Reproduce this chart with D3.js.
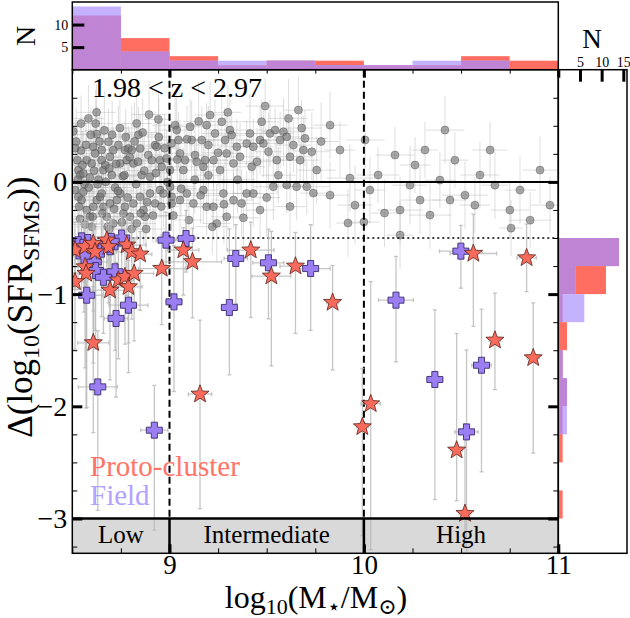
<!DOCTYPE html>
<html>
<head>
<meta charset="utf-8">
<script src="https://cdn.jsdelivr.net/npm/d3@7"></script>
<style>
  body { margin: 0; background: #fff; }
  svg { display: block; }
  text { font-family: "Liberation Serif", "DejaVu Serif", serif; fill: #000; }
</style>
</head>
<body>
<div id="chart"></div>
<script>
// Delta SFR vs stellar mass, proto-cluster vs field, with marginal histograms

// background sample: [logM, dSFR, xerr, yerr]
const graySample = [
  [8.583,0.566,0.08,0.3],[8.626,0.426,0.1,0.25],[8.526,0.194,0.06,0.35],[8.531,0.105,0.05,0.2],
  [8.540,0.061,0.07,0.3],[8.557,0.076,0.1,0.4],[8.574,0.194,0.08,0.25],[8.600,0.165,0.12,0.3],
  [8.608,0.313,0.06,0.2],[8.617,0.254,0.09,0.35],[8.651,0.284,0.1,0.3],[8.651,0.194,0.07,0.2],
  [8.660,0.105,0.08,0.4],[8.686,0.358,0.12,0.3],[8.694,0.224,0.06,0.25],[8.703,0.061,0.09,0.3],
  [8.711,0.284,0.1,0.2],[8.737,0.328,0.07,0.35],[8.746,0.165,0.11,0.3],[8.771,0.284,0.08,0.25],
  [8.780,0.194,0.1,0.3],[8.789,0.298,0.06,0.2],[8.806,0.284,0.09,0.4],[8.831,0.521,0.08,0.3],
  [8.814,0.165,0.12,0.25],[8.849,0.298,0.07,0.3],[8.857,0.061,0.1,0.2],[8.891,0.239,0.09,0.35],
  [8.900,0.046,0.06,0.3],[8.909,0.194,0.11,0.25],[8.926,0.328,0.08,0.3],[8.934,0.313,0.1,0.2],
  [8.943,0.557,0.07,0.25],[8.951,0.194,0.12,0.4],[8.960,0.135,0.09,0.3],[8.986,0.209,0.08,0.25],
  [9.003,0.105,0.1,0.3],[9.011,0.343,0.07,0.2],[9.029,0.506,0.12,0.3],[9.037,0.462,0.09,0.35],
  [9.046,0.373,0.1,0.25],[9.054,0.254,0.08,0.3],[9.071,0.105,0.11,0.2],[9.080,0.194,0.07,0.3],
  [9.106,0.492,0.1,0.25],[9.114,0.373,0.12,0.35],[9.131,0.239,0.09,0.3],[9.140,0.179,0.08,0.2],
  [9.166,0.373,0.1,0.3],[9.174,0.135,0.07,0.25],[9.183,0.194,0.12,0.3],[9.191,0.506,0.09,0.2],
  [9.200,0.328,0.1,0.35],[9.209,0.596,0.08,0.3],[9.226,0.194,0.11,0.25],[9.234,0.432,0.07,0.3],
  [9.260,0.105,0.1,0.2],[9.269,0.536,0.12,0.3],[9.286,0.373,0.09,0.25],[9.294,0.254,0.08,0.35],
  [9.311,0.462,0.1,0.3],[9.320,0.417,0.07,0.2],[9.329,0.165,0.12,0.3],[9.346,0.313,0.09,0.25],
  [9.363,0.224,0.1,0.3],[9.397,0.343,0.08,0.2],[9.414,0.432,0.11,0.35],[9.423,0.135,0.07,0.3],
  [9.431,0.313,0.1,0.25],[9.466,0.373,0.12,0.3],[9.474,0.536,0.09,0.2],[9.483,0.343,0.08,0.3],
  [9.492,0.676,0.1,0.25],[9.509,0.269,0.07,0.35],[9.517,0.432,0.12,0.3],[9.543,0.462,0.09,0.2],
  [9.552,0.194,0.1,0.3],[9.569,0.373,0.08,0.25],[9.586,0.447,0.11,0.3],[9.603,0.402,0.07,0.2],
  [9.612,0.566,0.1,0.35],[9.620,0.224,0.12,0.3],[9.637,0.328,0.09,0.25],[9.663,0.640,0.08,0.3],
  [9.672,0.194,0.1,0.2],[9.689,0.284,0.07,0.3],[9.697,0.388,0.12,0.25],[9.732,0.269,0.09,0.35],
  [9.757,0.105,0.1,0.3],
  [8.514,-0.073,0.06,0.3],[8.531,-0.133,0.08,0.25],[8.548,-0.162,0.1,0.35],[8.557,-0.088,0.07,0.3],
  [8.574,-0.251,0.09,0.25],[8.591,-0.311,0.08,0.3],[8.608,-0.222,0.1,0.2],[8.626,-0.162,0.07,0.3],
  [8.643,-0.133,0.12,0.25],[8.651,-0.103,0.09,0.35],[8.660,-0.222,0.08,0.3],[8.677,-0.311,0.1,0.25],
  [8.694,-0.192,0.07,0.3],[8.711,-0.370,0.11,0.35],[8.729,-0.162,0.08,0.2],[8.746,-0.103,0.1,0.3],
  [8.763,-0.281,0.09,0.25],[8.771,-0.222,0.07,0.3],[8.797,-0.311,0.12,0.35],[8.814,-0.192,0.08,0.25],
  [8.831,-0.370,0.1,0.3],[8.849,-0.133,0.09,0.2],[8.866,-0.251,0.07,0.3],[8.874,-0.311,0.11,0.25],
  [8.900,-0.103,0.08,0.3],[8.926,-0.192,0.1,0.35],[8.951,-0.073,0.09,0.25],[8.969,-0.103,0.07,0.3],
  [9.003,-0.043,0.12,0.2],[9.011,-0.133,0.08,0.3],[9.011,-0.192,0.1,0.25],[9.054,-0.162,0.09,0.3],
  [9.089,-0.103,0.07,0.35],[9.123,-0.192,0.11,0.25],[9.174,-0.073,0.08,0.3],[9.191,-0.222,0.1,0.25],
  [9.226,-0.222,0.09,0.3],[9.243,-0.370,0.07,0.35],[9.277,-0.103,0.12,0.25],[9.294,-0.311,0.08,0.3],
  [9.329,-0.162,0.1,0.25],[9.371,-0.192,0.09,0.3],[9.397,-0.103,0.07,0.2],[9.431,-0.103,0.11,0.3],
  [9.466,-0.251,0.08,0.25],[9.534,-0.043,0.1,0.3],[9.603,-0.028,0.09,0.25],[9.654,-0.043,0.07,0.3],
  [9.706,-0.043,0.12,0.25],
  [8.520,0.360,0.06,0.3],[8.545,0.280,0.08,0.25],[8.562,-0.020,0.07,0.3],[8.590,0.040,0.09,0.35],
  [8.635,0.020,0.07,0.3],[8.670,0.150,0.1,0.25],[8.720,-0.050,0.08,0.3],[8.760,0.050,0.07,0.25],
  [8.690,-0.420,0.09,0.3],[8.600,-0.400,0.08,0.25],[8.540,-0.330,0.07,0.3],[8.880,-0.420,0.1,0.25],
  [8.620,0.520,0.09,0.3],[8.840,0.420,0.08,0.25],
  [8.505,0.450,0.07,0.3],[8.515,0.300,0.09,0.25],[8.528,0.020,0.06,0.35],[8.535,-0.220,0.08,0.3],
  [8.545,0.520,0.1,0.25],[8.552,0.150,0.07,0.3],[8.565,-0.380,0.09,0.35],[8.570,0.330,0.08,0.25],
  [8.585,-0.050,0.1,0.3],[8.595,0.420,0.07,0.25],[8.605,-0.310,0.09,0.3],[8.612,0.100,0.08,0.35],
  [8.625,0.620,0.1,0.25],[8.630,-0.020,0.07,0.3],[8.640,0.360,0.09,0.25],[8.655,-0.280,0.08,0.3],
  [8.665,0.460,0.1,0.35],[8.672,0.000,0.07,0.25],[8.682,-0.400,0.09,0.3],[8.690,0.120,0.08,0.25],
  [8.705,0.420,0.1,0.3],[8.715,-0.240,0.07,0.35],[8.725,0.160,0.09,0.25],[8.735,-0.080,0.08,0.3],
  [8.745,0.480,0.1,0.25],[8.755,-0.360,0.07,0.3],[8.768,0.060,0.09,0.35],[8.775,0.400,0.08,0.25],
  [8.785,-0.140,0.1,0.3],[8.795,0.220,0.07,0.25],[8.805,-0.420,0.09,0.3],[8.820,0.360,0.08,0.35],
  [8.828,-0.020,0.1,0.25],[8.838,0.180,0.07,0.3],[8.852,-0.280,0.09,0.25],[8.862,0.440,0.08,0.3],
  [8.870,0.100,0.1,0.35],[8.885,-0.180,0.07,0.25],[8.895,0.600,0.09,0.3],[8.915,-0.300,0.08,0.25],
  [8.930,0.080,0.1,0.3],[8.945,0.400,0.07,0.35],[8.958,-0.220,0.09,0.25],[8.975,0.300,0.08,0.3],
  [8.990,0.000,0.1,0.25],[9.020,-0.300,0.07,0.3],[9.040,0.200,0.09,0.35],[9.060,-0.060,0.08,0.25],
  [9.090,0.380,0.1,0.3],[9.100,-0.340,0.07,0.25],[9.130,0.020,0.09,0.3],[9.150,0.540,0.08,0.35],
  [9.160,-0.120,0.1,0.25],[9.200,0.060,0.07,0.3],[9.220,-0.400,0.09,0.25],[9.250,0.260,0.08,0.3],
  [9.280,-0.200,0.1,0.35],[9.300,0.620,0.07,0.25],[9.350,0.020,0.09,0.3],[9.380,-0.320,0.08,0.25],
  [9.450,0.180,0.1,0.3],[9.500,-0.140,0.07,0.35],[9.560,0.060,0.09,0.25],[9.620,-0.220,0.08,0.3],
  [9.680,0.480,0.1,0.25],[9.740,-0.100,0.07,0.3],[9.780,0.360,0.09,0.35],
  [9.826,-0.118,0.1,0.3],[9.877,0.284,0.08,0.25],[9.928,0.034,0.12,0.3],[9.954,-0.207,0.09,0.35],
  [10.006,0.373,0.1,0.25],[10.031,-0.073,0.08,0.3],[10.073,0.061,0.11,0.25],[10.106,-0.278,0.07,0.3],
  [10.160,0.239,0.1,0.25],[10.186,-0.251,0.12,0.3],[10.237,-0.029,0.09,0.35],[10.263,0.150,0.08,0.25],
  [10.289,-0.162,0.1,0.3],[10.314,0.284,0.07,0.25],[10.340,-0.296,0.11,0.3],[10.391,0.016,0.08,0.25],
  [10.417,0.462,0.1,0.3],[10.443,-0.162,0.09,0.35],[10.468,0.194,0.07,0.25],[10.520,-0.118,0.12,0.3],
  [10.571,-0.207,0.08,0.25],[10.597,0.061,0.1,0.3],[10.649,0.284,0.09,0.25],[10.674,-0.029,0.07,0.3],
  [10.751,-0.251,0.1,0.25],[10.803,-0.073,0.08,0.3],[10.855,-0.341,0.11,0.25],[10.906,0.105,0.09,0.3],
  [10.957,-0.207,0.1,0.25],[9.918,-0.367,0.06,0.3],[10.000,-0.358,0.08,0.25],[10.186,-0.474,0.07,0.3],
  [10.757,-0.412,0.06,0.25],[9.826,0.506,0.09,0.3]
];

// proto-cluster members: [logM, dSFR, xerr, yerrLow, yerrHigh]
const protoCluster = [
  [8.514,-0.608,0.05,0.35,0.25],[8.566,-0.578,0.06,0.45,0.3],[8.608,-0.549,0.08,0.6,0.2],
  [8.677,-0.519,0.07,0.4,0.3],[8.686,-0.578,0.05,0.5,0.2],[8.617,-0.623,0.06,0.7,0.25],
  [8.780,-0.563,0.1,0.45,0.25],[8.806,-0.623,0.08,0.6,0.3],[8.849,-0.644,0.06,0.5,0.2],
  [8.566,-0.757,0.08,0.9,0.25],[8.571,-0.816,0.07,1.2,0.3],[8.514,-0.890,0.05,0.6,0.3],
  [8.694,-0.965,0.1,0.8,0.35],[8.737,-0.876,0.08,0.7,0.3],[8.771,-0.846,0.06,0.6,0.3],
  [8.789,-0.935,0.07,0.5,0.35],[8.818,-0.816,0.1,0.6,0.3],[8.960,-0.772,0.12,0.5,0.3],
  [9.071,-0.608,0.08,0.4,0.2],[9.118,-0.712,0.15,0.5,0.3],[9.418,-0.608,0.12,0.6,0.25],
  [9.524,-0.840,0.1,0.8,0.4],[9.648,-0.751,0.08,0.6,0.3],[8.608,-1.434,0.08,0.8,0.5],
  [9.157,-1.892,0.06,1.02,0.66],[9.839,-1.075,0.03,0.6,0.33],[10.563,-0.638,0.12,0.65,0.35],
  [10.837,-0.677,0.05,0.3,0.3],[10.674,-1.411,0.03,0.44,0.42],[10.871,-1.568,0.03,0.85,0.49],
  [10.035,-1.978,0.05,1.3,1.09],[9.992,-2.183,0.03,0.97,0.52],[10.477,-2.391,0.03,0.45,1.04],
  [10.520,-2.956,0.03,0.3,0.8]
];

// field galaxies: [logM, dSFR, xerr, yerrLow, yerrHigh]
const fieldSample = [
  [8.548,-0.525,0.06,0.5,0.2],[8.608,-0.712,0.07,0.9,0.3],[8.694,-0.578,0.06,0.6,0.25],
  [8.754,-0.500,0.08,0.4,0.2],[8.720,-0.801,0.1,0.7,0.3],[8.574,-1.010,0.08,1.0,0.4],
  [8.789,-1.099,0.1,0.6,0.4],[8.725,-1.217,0.06,0.7,0.5],[8.631,-1.827,0.1,1.1,0.5],
  [8.982,-0.519,0.05,0.3,0.25],[9.085,-0.504,0.05,0.3,0.25],[9.023,-1.069,0.04,0.8,0.5],
  [9.341,-0.682,0.06,0.4,0.3],[9.308,-1.119,0.04,0.6,0.7],[9.509,-0.721,0.08,0.5,0.3],
  [9.726,-0.772,0.1,0.55,0.39],[10.165,-1.054,0.09,0.55,0.39],[10.499,-0.617,0.11,0.33,0.23],
  [10.365,-1.761,0.04,1.07,0.62],[10.605,-1.634,0.05,0.95,0.5],[10.528,-2.228,0.06,1.1,0.73],
  [8.922,-2.213,0.07,0.89,0.4],
  [8.530,-0.560,0.05,0.4,0.2],[8.580,-0.540,0.06,0.5,0.2],[8.650,-0.600,0.05,0.6,0.3],
  [8.700,-0.530,0.05,0.4,0.2],[8.560,-0.660,0.06,0.5,0.3],[8.620,-0.790,0.05,0.7,0.3],
  [8.660,-0.850,0.06,0.5,0.3]
];

// marginal histograms (counts)
const massEdges = [8.5, 8.75, 9.0, 9.25, 9.5, 9.75, 10.0, 10.25, 10.5, 10.75, 11.0];
const massProto = [12, 7, 3, 1, 2, 2, 1, 1, 3, 2];
const massField = [14, 4, 2, 2, 2, 1, 1, 2, 2, 0];
const sfrEdges = [-0.5, -0.75, -1.0, -1.25, -1.5, -1.75, -2.0, -2.25, -2.5, -2.75, -3.0];
const sfrProto = [14, 11, 1, 2, 1, 2, 1, 1, 0, 1];
const sfrField = [14, 4, 6, 0, 1, 2, 2, 0, 0, 0];

const massTicks = [9, 10, 11];
const sfrTicks = [0, -1, -2, -3];
const countTicks = [5, 10];
const countTicksRight = [5, 10, 15];
const massBins = [
  { name: 'Low', lo: 8.5, hi: 9 },
  { name: 'Intermediate', lo: 9, hi: 10 },
  { name: 'High', lo: 10, hi: 11 }
];

const width = 630, height = 618;
const L = 72.3, R = 558.3, T = 69.7, B = 553.3;
const TOPY = 2, RIGHTX = 627;

const RED = '#ff6e60', LAV = '#c4b2ff', MIX = '#c084d4';

const svg = d3.select('#chart').append('svg')
  .attr('width', width).attr('height', height);

const x = d3.scaleLinear().domain([8.5, 11]).range([L, R]);
const y = d3.scaleLinear().domain([-3.31, 1.0]).range([B, T]);
const yTop = d3.scaleLinear().domain([0, 15]).range([T, TOPY]);
const xRight = d3.scaleLinear().domain([0, 15.85]).range([R, RIGHTX]);

svg.append('clipPath').attr('id', 'main-clip')
  .append('rect').attr('x', L).attr('y', T).attr('width', R - L).attr('height', B - T);

// ---- mass bins band ----
svg.append('rect')
  .attr('x', L).attr('y', y(-3)).attr('width', R - L).attr('height', B - y(-3))
  .attr('fill', '#d9d9d9');

const plot = svg.append('g').attr('clip-path', 'url(#main-clip)');

// ---- background sample ----
const gErr = plot.append('g').attr('stroke', '#b5b5b5').attr('stroke-opacity', 0.45).attr('stroke-width', 1);
graySample.forEach(d => {
  gErr.append('line').attr('x1', x(d[0] - d[2])).attr('x2', x(d[0] + d[2])).attr('y1', y(d[1])).attr('y2', y(d[1]));
  gErr.append('line').attr('x1', x(d[0])).attr('x2', x(d[0])).attr('y1', y(d[1] - d[3])).attr('y2', y(d[1] + d[3]));
});
plot.append('g').selectAll('circle').data(graySample).join('circle')
  .attr('cx', d => x(d[0])).attr('cy', d => y(d[1])).attr('r', 4)
  .attr('fill', '#737373').attr('fill-opacity', 0.62)
  .attr('stroke', '#3a3a3a').attr('stroke-opacity', 0.6).attr('stroke-width', 0.6);

// ---- reference lines ----
plot.append('line').attr('x1', L).attr('x2', R).attr('y1', y(0)).attr('y2', y(0))
  .attr('stroke', '#000').attr('stroke-width', 2);
plot.append('line').attr('x1', L).attr('x2', R).attr('y1', y(-0.5)).attr('y2', y(-0.5))
  .attr('stroke', '#000').attr('stroke-width', 1.6).attr('stroke-dasharray', '2,3');
massTicks.slice(0, 2).forEach(m => {
  plot.append('line').attr('x1', x(m)).attr('x2', x(m)).attr('y1', T).attr('y2', y(-3))
    .attr('stroke', '#000').attr('stroke-width', 2).attr('stroke-dasharray', '7,4');
});

// ---- error bars for the two samples ----
const cErr = plot.append('g').attr('stroke', '#b8b8b8').attr('stroke-opacity', 0.8).attr('stroke-width', 1.3);
function drawErr(d) {
  const cx = x(d[0]), cy = y(d[1]);
  const x0 = x(d[0] - d[2]), x1 = x(d[0] + d[2]);
  const y0 = y(d[1] - d[3]), y1 = y(d[1] + d[4]);
  cErr.append('line').attr('x1', x0).attr('x2', x1).attr('y1', cy).attr('y2', cy);
  cErr.append('line').attr('x1', cx).attr('x2', cx).attr('y1', y0).attr('y2', y1);
  [x0, x1].forEach(v => cErr.append('line').attr('x1', v).attr('x2', v).attr('y1', cy - 2).attr('y2', cy + 2));
  [y0, y1].forEach(v => cErr.append('line').attr('x1', cx - 2).attr('x2', cx + 2).attr('y1', v).attr('y2', v));
}
fieldSample.forEach(drawErr);
protoCluster.forEach(drawErr);

// marker shapes
function plusPath(s) {
  const a = s * 0.19, b = s / 2;
  return `M${-a},${-b}H${a}V${-a}H${b}V${a}H${a}V${b}H${-a}V${a}H${-b}V${-a}H${-a}Z`;
}
function starPath(ro, ri) {
  const pts = [];
  for (let i = 0; i < 10; i++) {
    const r = i % 2 === 0 ? ro : ri;
    const a = -Math.PI / 2 + i * Math.PI / 5;
    pts.push([r * Math.cos(a), r * Math.sin(a)]);
  }
  return 'M' + pts.map(p => p[0].toFixed(2) + ',' + p[1].toFixed(2)).join('L') + 'Z';
}

plot.append('g').selectAll('path').data(fieldSample).join('path')
  .attr('d', plusPath(16))
  .attr('transform', d => `translate(${x(d[0])},${y(d[1])})`)
  .attr('fill', '#9b7ff2').attr('stroke', '#3b2d6e').attr('stroke-width', 0.9);

plot.append('g').selectAll('path').data(protoCluster).join('path')
  .attr('d', starPath(9.5, 4))
  .attr('transform', d => `translate(${x(d[0])},${y(d[1])})`)
  .attr('fill', '#f86b5c').attr('stroke', '#5a241c').attr('stroke-width', 0.8);

// ---- band outline + labels ----
svg.append('line').attr('x1', L).attr('x2', R).attr('y1', y(-3)).attr('y2', y(-3))
  .attr('stroke', '#000').attr('stroke-width', 2.5);
massBins.forEach(b => {
  svg.append('text')
    .attr('x', (x(b.lo) + x(b.hi)) / 2).attr('y', y(-3) + 24)
    .attr('text-anchor', 'middle').attr('font-size', 25)
    .text(b.name);
});
massTicks.slice(0, 2).forEach(m => {
  svg.append('line').attr('x1', x(m)).attr('x2', x(m)).attr('y1', y(-3)).attr('y2', B)
    .attr('stroke', '#000').attr('stroke-width', 2.5);
});

// ---- main axes ----
const minorX = d3.range(8.5, 11.001, 0.25).filter(v => Math.abs(v - Math.round(v)) > 1e-6);
const minorY = d3.range(-3.25, 1.001, 0.25).filter(v => Math.abs(v - Math.round(v)) > 1e-6);

function styleAxis(g, major, fs) {
  g.select('.domain').remove();
  g.selectAll('.tick line').attr('stroke', '#000').attr('stroke-width', major ? 3 : 1);
  g.selectAll('.tick text').attr('font-size', fs || 28)
    .attr('font-family', '"Liberation Serif", serif');
}

svg.append('g').attr('transform', `translate(0,${B})`)
  .call(d3.axisBottom(x).tickValues(massTicks).tickSize(-9).tickPadding(2).tickFormat(d3.format('d')))
  .call(g => styleAxis(g, true, 27));
svg.append('g').attr('transform', `translate(0,${B})`)
  .call(d3.axisBottom(x).tickValues(minorX).tickSize(-5).tickFormat(''))
  .call(g => styleAxis(g, false));
svg.append('g').attr('transform', `translate(0,${T})`)
  .call(d3.axisTop(x).tickValues(massTicks).tickSize(-8).tickFormat(''))
  .call(g => styleAxis(g, true));
svg.append('g').attr('transform', `translate(0,${T})`)
  .call(d3.axisTop(x).tickValues(minorX).tickSize(-4).tickFormat(''))
  .call(g => styleAxis(g, false));

svg.append('g').attr('transform', `translate(${L},0)`)
  .call(d3.axisLeft(y).tickValues(sfrTicks).tickSize(-10).tickPadding(5).tickFormat(d3.format('d')))
  .call(g => styleAxis(g, true));
svg.append('g').attr('transform', `translate(${L},0)`)
  .call(d3.axisLeft(y).tickValues(minorY).tickSize(-5).tickFormat(''))
  .call(g => styleAxis(g, false));
svg.append('g').attr('transform', `translate(${R},0)`)
  .call(d3.axisRight(y).tickValues(sfrTicks).tickSize(-10).tickFormat(''))
  .call(g => styleAxis(g, true));
svg.append('g').attr('transform', `translate(${R},0)`)
  .call(d3.axisRight(y).tickValues(minorY).tickSize(-5).tickFormat(''))
  .call(g => styleAxis(g, false));

svg.append('rect').attr('x', L).attr('y', T).attr('width', R - L).attr('height', B - T)
  .attr('fill', 'none').attr('stroke', '#000').attr('stroke-width', 1.5);

// ---- top histogram (stellar mass) ----
const topG = svg.append('g');
massProto.forEach((c, i) => {
  const x0 = x(massEdges[i]), x1 = x(massEdges[i + 1]);
  const f = massField[i];
  topG.append('rect').attr('x', x0).attr('width', x1 - x0)
    .attr('y', yTop(c)).attr('height', T - yTop(c)).attr('fill', RED);
  topG.append('rect').attr('x', x0).attr('width', x1 - x0)
    .attr('y', yTop(f)).attr('height', T - yTop(f)).attr('fill', LAV);
  const m = Math.min(c, f);
  topG.append('rect').attr('x', x0).attr('width', x1 - x0)
    .attr('y', yTop(m)).attr('height', T - yTop(m)).attr('fill', MIX);
});
topG.append('g').attr('transform', `translate(${L},0)`)
  .call(d3.axisLeft(yTop).tickValues(countTicks).tickSize(-12).tickPadding(4))
  .call(g => {
    g.select('.domain').remove();
    g.selectAll('.tick line').attr('stroke', '#000').attr('stroke-width', 3);
    g.selectAll('.tick text').attr('font-size', 14).attr('font-family', '"Liberation Serif", serif');
  });
topG.append('rect').attr('x', L).attr('y', TOPY).attr('width', R - L).attr('height', T - TOPY)
  .attr('fill', 'none').attr('stroke', '#000').attr('stroke-width', 1.5);
topG.append('text').attr('transform', `translate(35,36) rotate(-90)`)
  .attr('text-anchor', 'middle').attr('font-size', 28).text('N');

// ---- right histogram (delta SFR) ----
const sideG = svg.append('g');
sfrProto.forEach((c, i) => {
  const y0 = y(sfrEdges[i]), y1 = y(sfrEdges[i + 1]);
  const f = sfrField[i];
  sideG.append('rect').attr('y', y0).attr('height', y1 - y0)
    .attr('x', R).attr('width', xRight(c) - R).attr('fill', RED);
  sideG.append('rect').attr('y', y0).attr('height', y1 - y0)
    .attr('x', R).attr('width', xRight(f) - R).attr('fill', LAV);
  const m = Math.min(c, f);
  sideG.append('rect').attr('y', y0).attr('height', y1 - y0)
    .attr('x', R).attr('width', xRight(m) - R).attr('fill', MIX);
});
sideG.append('g').attr('transform', `translate(0,${T})`)
  .call(d3.axisTop(xRight).tickValues(countTicksRight).tickSize(-12).tickPadding(3))
  .call(g => {
    g.select('.domain').remove();
    g.selectAll('.tick line').attr('stroke', '#000').attr('stroke-width', 3);
    g.selectAll('.tick text').attr('font-size', 14).attr('font-family', '"Liberation Serif", serif');
  });
sideG.append('rect').attr('x', R).attr('y', T).attr('width', RIGHTX - R).attr('height', B - T)
  .attr('fill', 'none').attr('stroke', '#000').attr('stroke-width', 1.5);
sideG.append('text').attr('x', 592).attr('y', 48)
  .attr('text-anchor', 'middle').attr('font-size', 27).text('N');

// ---- labels ----
svg.append('text').attr('x', 92).attr('y', 97).attr('font-size', 28).text('1.98 < z < 2.97');

svg.append('text').attr('x', 90).attr('y', 476).attr('font-size', 29)
  .style('fill', '#ff7466').text('Proto-cluster');
svg.append('text').attr('x', 90).attr('y', 505).attr('font-size', 29)
  .style('fill', '#b3a2ff').text('Field');

const xl = svg.append('text').attr('x', 316).attr('y', 608).attr('text-anchor', 'middle').attr('font-size', 32);
xl.append('tspan').text('log');
xl.append('tspan').attr('font-size', 22).attr('dy', 6).text('10');
xl.append('tspan').attr('dy', -6).text('(M');
xl.append('tspan').attr('font-size', 22).attr('dy', 6).text('⋆');
xl.append('tspan').attr('dy', -6).text('/M');
xl.append('tspan').attr('font-size', 22).attr('dy', 6).text('⊙');
xl.append('tspan').attr('dy', -6).text(')');

const yl = svg.append('text').attr('transform', `translate(32,307) rotate(-90)`)
  .attr('text-anchor', 'middle').attr('font-size', 35);
yl.append('tspan').text('Δ(log');
yl.append('tspan').attr('font-size', 24).attr('dy', 7).text('10');
yl.append('tspan').attr('dy', -7).text('(SFR');
yl.append('tspan').attr('font-size', 24).attr('dy', 7).text('SFMS');
yl.append('tspan').attr('dy', -7).text('))');
</script>
</body>
</html>
